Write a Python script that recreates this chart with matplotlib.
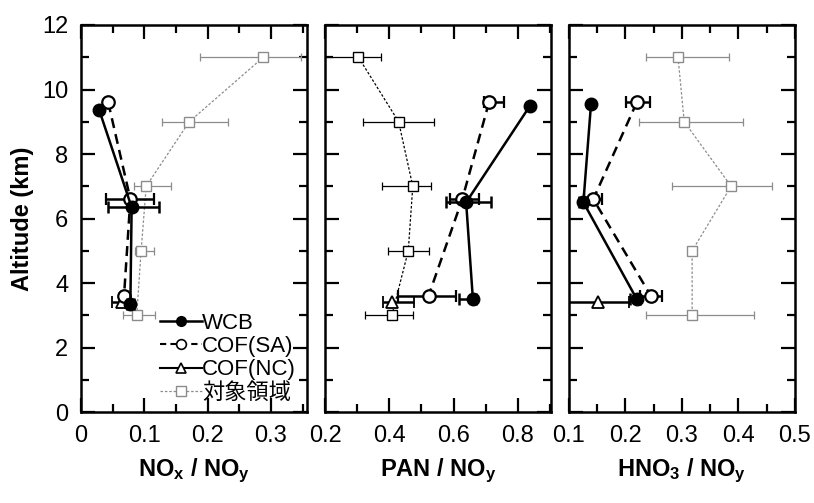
import matplotlib
matplotlib.use("Agg")
import matplotlib.pyplot as plt
from matplotlib.ticker import MultipleLocator
from matplotlib.lines import Line2D

plt.rcParams['font.family'] = ['Liberation Sans', 'Noto Sans CJK JP', 'DejaVu Sans']
plt.rcParams['mathtext.fontset'] = 'custom'
plt.rcParams['mathtext.rm'] = 'Liberation Sans'
plt.rcParams['mathtext.bf'] = 'Liberation Sans:bold'

series_names = ['WCB', 'COF(SA)', 'COF(NC)', '対象領域']
xlabels = [r'$\mathbf{NO_x}$ / $\mathbf{NO_y}$',
           r'$\mathbf{PAN}$ / $\mathbf{NO_y}$',
           r'$\mathbf{HNO_3}$ / $\mathbf{NO_y}$']

# ---- NOx / NOy ----
p1_wcb_alt = [9.35, 6.35, 3.35]
p1_wcb_x = [0.029, 0.080, 0.078]
p1_wcb_lo = [0.0, 0.038, 0.006]
p1_wcb_hi = [0.0, 0.043, 0.006]

p1_sa_alt = [9.6, 6.6, 3.6]
p1_sa_x = [0.043, 0.078, 0.068]
p1_sa_lo = [0.0, 0.038, 0.004]
p1_sa_hi = [0.0, 0.037, 0.004]

p1_nc_alt = [3.42]
p1_nc_x = [0.0645]
p1_nc_lo = [0.015]
p1_nc_hi = [0.012]

p1_reg_alt = [11, 9, 7, 5, 3]
p1_reg_x = [0.288, 0.171, 0.103, 0.095, 0.088]
p1_reg_lo = [0.100, 0.043, 0.019, 0.009, 0.022]
p1_reg_hi = [0.059, 0.061, 0.039, 0.021, 0.029]

# ---- PAN / NOy ----
p2_wcb_alt = [9.5, 6.5, 3.5]
p2_wcb_x = [0.838, 0.639, 0.660]
p2_wcb_lo = [0.0, 0.062, 0.044]
p2_wcb_hi = [0.0, 0.077, 0.010]

p2_sa_alt = [9.6, 6.6, 3.6]
p2_sa_x = [0.710, 0.627, 0.522]
p2_sa_lo = [0.016, 0.037, 0.096]
p2_sa_hi = [0.048, 0.052, 0.084]

p2_nc_alt = [3.42]
p2_nc_x = [0.408]
p2_nc_lo = [0.029]
p2_nc_hi = [0.068]

p2_reg_alt = [11, 9, 7, 5, 3]
p2_reg_x = [0.304, 0.429, 0.473, 0.459, 0.408]
p2_reg_lo = [0.12, 0.112, 0.095, 0.064, 0.083]
p2_reg_hi = [0.07, 0.109, 0.057, 0.066, 0.065]

# ---- HNO3 / NOy ----
p3_wcb_alt = [9.55, 6.5, 3.5]
p3_wcb_x = [0.139, 0.1255, 0.220]
p3_wcb_lo = [0.0, 0.008, 0.012]
p3_wcb_hi = [0.0, 0.006, 0.006]

p3_sa_alt = [9.6, 6.6, 3.6]
p3_sa_x = [0.220, 0.143, 0.245]
p3_sa_lo = [0.019, 0.016, 0.020]
p3_sa_hi = [0.024, 0.016, 0.020]

p3_nc_alt = [3.42]
p3_nc_x = [0.152]
p3_nc_lo = [0.060]
p3_nc_hi = [0.055]

p3_reg_alt = [11, 9, 7, 5, 3]
p3_reg_x = [0.293, 0.304, 0.387, 0.318, 0.318]
p3_reg_lo = [0.057, 0.080, 0.104, 0.0, 0.081]
p3_reg_hi = [0.090, 0.104, 0.072, 0.0, 0.109]

panels = [
    dict(wcb=(p1_wcb_x, p1_wcb_alt, p1_wcb_lo, p1_wcb_hi),
         sa=(p1_sa_x, p1_sa_alt, p1_sa_lo, p1_sa_hi),
         nc=(p1_nc_x, p1_nc_alt, p1_nc_lo, p1_nc_hi),
         reg=(p1_reg_x, p1_reg_alt, p1_reg_lo, p1_reg_hi),
         reg_color='#8c8c8c', xlim=(0, 0.357), minor=0.05,
         ticks=[0, 0.1, 0.2, 0.3], ticklabels=['0', '0.1', '0.2', '0.3']),
    dict(wcb=(p2_wcb_x, p2_wcb_alt, p2_wcb_lo, p2_wcb_hi),
         sa=(p2_sa_x, p2_sa_alt, p2_sa_lo, p2_sa_hi),
         nc=(p2_nc_x, p2_nc_alt, p2_nc_lo, p2_nc_hi),
         reg=(p2_reg_x, p2_reg_alt, p2_reg_lo, p2_reg_hi),
         reg_color='black', xlim=(0.2, 0.903), minor=0.1,
         ticks=[0.2, 0.4, 0.6, 0.8], ticklabels=['0.2', '0.4', '0.6', '0.8']),
    dict(wcb=(p3_wcb_x, p3_wcb_alt, p3_wcb_lo, p3_wcb_hi),
         sa=(p3_sa_x, p3_sa_alt, p3_sa_lo, p3_sa_hi),
         nc=(p3_nc_x, p3_nc_alt, p3_nc_lo, p3_nc_hi),
         reg=(p3_reg_x, p3_reg_alt, p3_reg_lo, p3_reg_hi),
         reg_color='#8c8c8c', xlim=(0.1, 0.5), minor=0.05,
         ticks=[0.1, 0.2, 0.3, 0.4, 0.5], ticklabels=['0.1', '0.2', '0.3', '0.4', '0.5']),
]

fig = plt.figure(figsize=(8.14, 5.03), dpi=100)
lefts = [0.0995, 0.3993, 0.699]

for i, p in enumerate(panels):
    ax = fig.add_axes([lefts[i], 0.1809, 0.2776, 0.7694])

    x, y, lo, hi = p['reg']
    ax.errorbar(x, y, xerr=[lo, hi], fmt='s', ls=(0, (2, 1.5)), lw=0.9,
                color=p['reg_color'], mfc='white', mec=p['reg_color'], ms=6.5,
                capsize=3, elinewidth=0.9, capthick=0.9, zorder=2)

    x, y, lo, hi = p['nc']
    ax.errorbar(x, y, xerr=[lo, hi], fmt='^', ls='-', lw=1.8, color='black',
                mfc='white', mec='black', mew=1.3, ms=8.5, capsize=4,
                elinewidth=1.8, capthick=1.8, zorder=3)

    x, y, lo, hi = p['sa']
    ax.errorbar(x, y, xerr=[lo, hi], fmt='o', ls=(0, (4, 2.5)), lw=1.8,
                color='black', mfc='white', mec='black', mew=1.6, ms=9,
                capsize=4, elinewidth=1.8, capthick=1.8, zorder=4)

    x, y, lo, hi = p['wcb']
    ax.errorbar(x, y, xerr=[lo, hi], fmt='o', ls='-', lw=1.8, color='black',
                mfc='black', mec='black', ms=9, capsize=4, elinewidth=1.8,
                capthick=1.8, zorder=5)

    ax.set_xlim(*p['xlim'])
    ax.set_ylim(0, 12)
    ax.set_xticks(p['ticks'])
    ax.set_xticklabels(p['ticklabels'])
    ax.xaxis.set_minor_locator(MultipleLocator(p['minor']))
    ax.yaxis.set_major_locator(MultipleLocator(2))
    ax.yaxis.set_minor_locator(MultipleLocator(1))
    ax.tick_params(which='both', direction='in', top=True, right=True,
                   width=1.6, labelsize=17, pad=9)
    ax.tick_params(which='major', length=10)
    ax.tick_params(which='minor', length=6)
    for s in ax.spines.values():
        s.set_linewidth(1.8)
    ax.set_xlabel(xlabels[i], fontsize=17, fontweight='bold', labelpad=7)
    if i == 0:
        ax.set_ylabel('Altitude (km)', fontsize=17, fontweight='bold', labelpad=6)
        handles = [
            Line2D([], [], color='black', lw=1.8, marker='o', ms=7, mfc='black'),
            Line2D([], [], color='black', lw=1.5, ls=(0, (3, 2)), marker='o',
                   ms=7, mfc='white', mew=1.2),
            Line2D([], [], color='black', lw=1.5, marker='^', ms=7,
                   mfc='white', mew=1.2),
            Line2D([], [], color='#8c8c8c', lw=0.9, ls=(0, (2, 1.5)),
                   marker='s', ms=6.5, mfc='white', mec='#8c8c8c'),
        ]
        ax.legend(handles, series_names, loc='lower right',
                  bbox_to_anchor=(1.01, -0.013), frameon=False, fontsize=16,
                  handlelength=1.9, handletextpad=0.0, labelspacing=0.1,
                  borderaxespad=0.2)
    else:
        ax.set_yticklabels([])

fig.savefig('out.png', dpi=100)
